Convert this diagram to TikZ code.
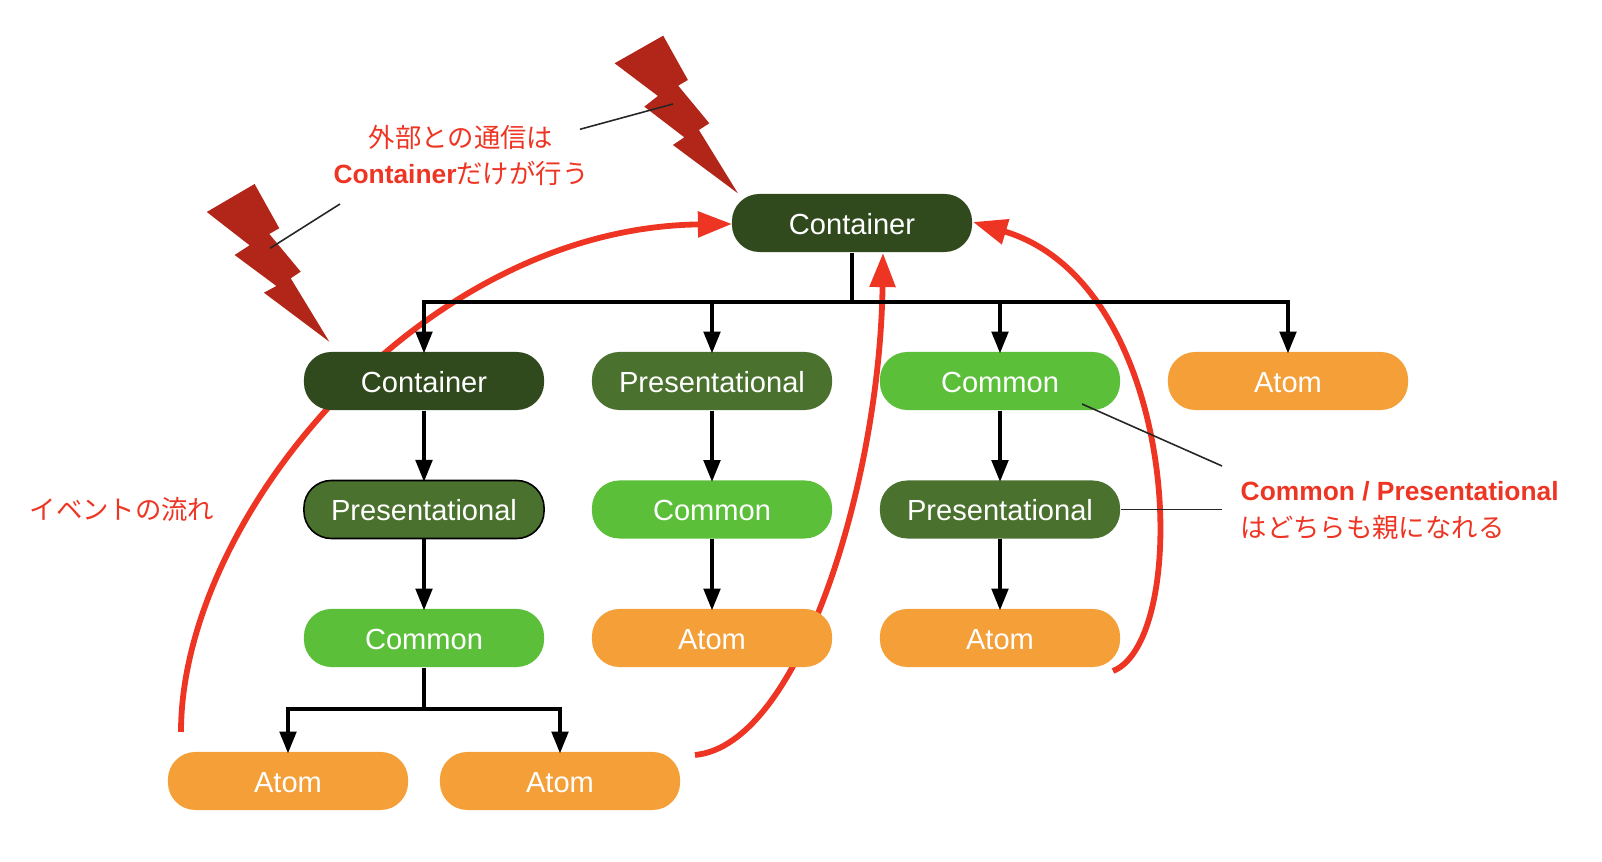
\documentclass[tikz,border=0pt]{standalone}
\usepackage{fontspec}
\setmainfont{Liberation Sans}
\newfontfamily\jpfont{Noto Sans CJK JP}
\usetikzlibrary{arrows.meta,backgrounds}
\definecolor{boltred}{HTML}{B22519}
\definecolor{flowred}{HTML}{EE3524}
\definecolor{containergreen}{HTML}{304A1D}
\definecolor{presgreen}{HTML}{4A712E}
\definecolor{commongreen}{HTML}{5BBF3A}
\definecolor{atomorange}{HTML}{F49F38}
\tikzset{
  pill/.style={rounded corners=7.8pt, minimum width=2.4cm, minimum height=0.58cm, inner sep=0pt,
    text=white, text height=6.5pt, text depth=0pt, font=\fontsize{8.27}{10}\selectfont},
  containerbox/.style={pill, fill=containergreen},
  presbox/.style={pill, fill=presgreen},
  commonbox/.style={pill, fill=commongreen},
  atombox/.style={pill, fill=atomorange},
  link/.style={-{Triangle[length=6.2pt,width=4.7pt]}, line width=1pt, black, shorten >=-0.6pt},
  flow/.style={-{Triangle[length=9.7pt,width=7.1pt]}, line width=1.65pt, flowred},
  note/.style={flowred, font=\fontsize{7.5}{10.5}\selectfont, inner sep=0pt},
  pointer/.style={line width=0.45pt, black!85}
}
\begin{document}
\begin{tikzpicture}[x=0.01cm,y=-0.01cm]
\useasboundingbox (0,0) rectangle (1602,862);

% Nodos
\node[containerbox] (top) at (852,223) {Container};
\node[containerbox] (contA) at (424,381) {Container};
\node[presbox] (presB) at (712,381) {Presentational};
\node[commonbox] (commC) at (1000,381) {Common};
\node[atombox] (atomD) at (1288,381) {Atom};
\node[presbox, draw=black, line width=0.45pt] (presA) at (424,509.5) {Presentational};
\node[commonbox] (commB) at (712,509.5) {Common};
\node[presbox] (presC) at (1000,509.5) {Presentational};
\node[commonbox] (commA) at (424,638) {Common};
\node[atombox] (atomB) at (712,638) {Atom};
\node[atombox] (atomC) at (1000,638) {Atom};
\node[atombox] (atomL) at (288,781) {Atom};
\node[atombox] (atomR) at (560,781) {Atom};

% Ligacoes
\coordinate (busT) at (852,302);
\coordinate (busA) at (424,709);
\draw[link] (top.south) -- (busT) -| (contA.north);
\draw[link] (busT) -| (presB.north);
\draw[link] (busT) -| (commC.north);
\draw[link] (busT) -| (atomD.north);
\draw[link] (contA) -- (presA);
\draw[link] (presA) -- (commA);
\draw[link] (presB) -- (commB);
\draw[link] (commB) -- (atomB);
\draw[link] (commC) -- (presC);
\draw[link] (presC) -- (atomC);
\draw[link] (commA.south) -- (busA) -| (atomL.north);
\draw[link] (busA) -| (atomR.north);

% Fluxo de eventos
\coordinate (startL) at (181,732);
\coordinate (startR) at (695,755);
\coordinate (startC) at (1113,671);
\coordinate (endL) at (732,224);
\coordinate (endR) at (883,253);
\coordinate (endC) at (973,222);
\begin{scope}[on background layer]
\draw[flow] (startL) .. controls (181,520) and (420,228) .. (endL);
\draw[flow] (startR) .. controls (800,745) and (880,480) .. (endR);
\draw[flow] (startC) .. controls (1192,640) and (1183,285) .. (endC);
\end{scope}

% Raios
\fill[boltred] (663.2,35.7) -- (614.6,63.3) -- (657.9,96) -- (644.3,106.7) -- (684.3,137.3) -- (672.9,145) -- (737.9,193.3)
  -- (698.9,130) -- (709.3,123.3) -- (678.2,85.7) -- (687.9,80) -- cycle;
\fill[boltred] (254.6,184) -- (206.8,212) -- (249.6,245.3) -- (234.6,255) -- (276.4,286) -- (263.9,292.7) -- (329.3,341.7)
  -- (290.7,278.3) -- (300.7,271.7) -- (269.3,234) -- (279.3,228.3) -- cycle;

% Textos
\node[note, align=center] (noteTop) at (461,155.5) {{\jpfont 外部との通信は}\\\textbf{Container}{\jpfont だけが行う}};
\node[note, anchor=west] (noteEvent) at (29,509) {\jpfont イベントの流れ};
\node[note, align=left, anchor=west] (noteParent) at (1240,510.5) {\textbf{Common / Presentational}\\{\jpfont はどちらも親になれる}};

% Linhas finas
\coordinate (tipA) at (673,104);
\coordinate (tipB) at (270,248.3);
\coordinate (noteA) at (580,129.3);
\coordinate (noteB) at (340,204);
\coordinate (commTip) at (1082,404);
\coordinate (noteC) at (1222,466);
\coordinate (noteD) at (1222,509.5);
\draw[pointer] (noteA) -- (tipA);
\draw[pointer] (noteB) -- (tipB);
\draw[pointer] (commTip) -- (noteC);
\draw[pointer] (presC.east) -- (noteD);
\end{tikzpicture}
\end{document}
